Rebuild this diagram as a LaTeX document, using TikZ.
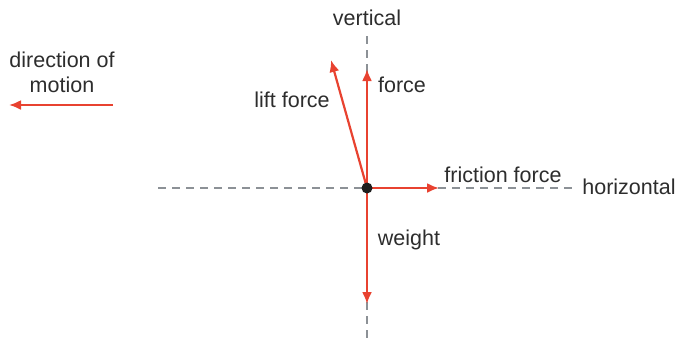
\documentclass[tikz,border=0pt]{standalone}
\usepackage{fontspec}
\setmainfont{Liberation Sans}
\usetikzlibrary{arrows.meta, positioning}
\usepackage{xcolor}
\definecolor{forcecolor}{RGB}{232,66,48}
\definecolor{axiscolor}{RGB}{140,145,150}
\definecolor{textcolor}{RGB}{45,45,45}
\definecolor{dotcolor}{RGB}{30,30,30}
\tikzset{
    axis/.style={draw=axiscolor, line width=2pt, dash pattern=on 8pt off 6pt},
    force/.style={draw=forcecolor, line width=2.2pt, -{Latex[length=12pt,width=10pt]}},
    label/.style={text=textcolor, inner sep=0pt, font=\fontsize{21.5}{25}\selectfont, align=center}
}

\begin{document}
\begin{tikzpicture}[x=1pt, y=-1pt]

    \useasboundingbox (0,0) rectangle (677,341);

    % axes
    \coordinate (hleft) at (158,188);
    \coordinate (hright) at (572,188);
    \coordinate (vtop) at (367,36);
    \coordinate (vbottom) at (367,338);
    \draw[axis] (hleft) -- (hright);
    \draw[axis] (vtop) -- (vbottom);

    \node[label] (vertical) at (367,18) {vertical};
    \node[label] (horizontal) at (629,187) {horizontal};

    % forces on the point
    \coordinate (o) at (367,188);
    \coordinate (forcetip) at (367,69);
    \coordinate (lifttip) at (331,60);
    \coordinate (frictiontip) at (439,188);
    \coordinate (weighttip) at (367,304);
    \draw[force] (o) -- (forcetip);
    \draw[force] (o) -- (lifttip);
    \draw[force] (o) -- (frictiontip);
    \draw[force] (o) -- (weighttip);
    \fill[dotcolor] (o) circle (5.5pt);

    \node[label] (force) at (402,85) {force};
    \node[label] (lift) at (292,100) {lift force};
    \node[label] (friction) at (503,175) {friction force};
    \node[label] (weight) at (409,240) {weight};

    % direction of motion
    \node[label] (motion) at (62,72) {direction of\\motion};
    \coordinate (mstart) at (113,105);
    \coordinate (mend) at (9,105);
    \draw[force] (mstart) -- (mend);

\end{tikzpicture}
\end{document}
